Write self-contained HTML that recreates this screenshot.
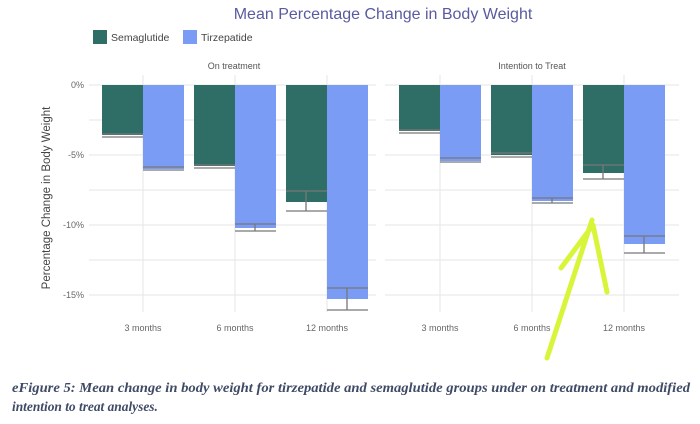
<!DOCTYPE html>
<html><head><style>
body{margin:0;background:#fff;width:700px;height:424px;overflow:hidden}
svg{display:block}
</style></head><body>
<svg width="700" height="424" xmlns="http://www.w3.org/2000/svg" font-family="Liberation Sans, DejaVu Sans, sans-serif">
<rect width="700" height="424" fill="#fff"/>
<text x="383" y="19" font-size="16" fill="#5a5aa0" text-anchor="middle">Mean Percentage Change in Body Weight</text>
<rect x="93" y="30" width="14" height="14" fill="#2e6e66"/>
<text x="111" y="41" font-size="10.5" fill="#444">Semaglutide</text>
<rect x="183" y="30" width="14" height="14" fill="#7b9cf5"/>
<text x="201" y="41" font-size="10.5" fill="#444">Tirzepatide</text>
<text x="234" y="69" font-size="9" fill="#555" text-anchor="middle">On treatment</text>
<text x="532" y="69" font-size="9" fill="#555" text-anchor="middle">Intention to Treat</text>
<g stroke="#e6e6e6" stroke-width="1">
<line x1="89" y1="85" x2="376" y2="85"/><line x1="89" y1="120" x2="376" y2="120"/><line x1="89" y1="155" x2="376" y2="155"/><line x1="89" y1="190" x2="376" y2="190"/><line x1="89" y1="225" x2="376" y2="225"/><line x1="89" y1="260" x2="376" y2="260"/><line x1="89" y1="295" x2="376" y2="295"/>
<line x1="385" y1="85" x2="679" y2="85"/><line x1="385" y1="120" x2="679" y2="120"/><line x1="385" y1="155" x2="679" y2="155"/><line x1="385" y1="190" x2="679" y2="190"/><line x1="385" y1="225" x2="679" y2="225"/><line x1="385" y1="260" x2="679" y2="260"/><line x1="385" y1="295" x2="679" y2="295"/>
<line x1="143" y1="75" x2="143" y2="312"/><line x1="235" y1="75" x2="235" y2="312"/><line x1="327" y1="75" x2="327" y2="312"/>
<line x1="440" y1="75" x2="440" y2="312"/><line x1="532" y1="75" x2="532" y2="312"/><line x1="624" y1="75" x2="624" y2="312"/>
</g>
<g font-size="9" fill="#666" text-anchor="end">
<text x="84" y="88">0%</text><text x="84" y="158">-5%</text><text x="84" y="228">-10%</text><text x="84" y="298">-15%</text>
</g>
<text transform="translate(50,198) rotate(-90)" font-size="11.5" fill="#444" text-anchor="middle">Percentage Change in Body Weight</text>
<g font-size="9" fill="#666" text-anchor="middle">
<text x="143" y="331">3 months</text><text x="235" y="331">6 months</text><text x="327" y="331">12 months</text>
<text x="440" y="331">3 months</text><text x="532" y="331">6 months</text><text x="624" y="331">12 months</text>
</g>
<g fill="#2e6e66">
<rect x="102" y="85" width="41" height="50"/><rect x="194" y="85" width="41" height="81"/><rect x="286" y="85" width="41" height="117"/>
<rect x="399" y="85" width="41" height="46"/><rect x="491" y="85" width="41" height="70"/><rect x="583" y="85" width="41" height="88"/>
</g>
<g fill="#7b9cf5">
<rect x="143" y="85" width="41" height="84"/><rect x="235" y="85" width="41" height="143"/><rect x="327" y="85" width="41" height="214"/>
<rect x="440" y="85" width="41" height="76"/><rect x="532" y="85" width="41" height="116"/><rect x="624" y="85" width="41" height="159"/>
</g>
<g stroke="#777" stroke-width="1.3" fill="none">
<path d="M102 134H143M102 137H143"/>
<path d="M143 167H184M143 170H184"/>
<path d="M194 165H235M194 168H235"/>
<path d="M235 224H276M235 231H276M255 224V231"/>
<path d="M286 191H327M286 211H327M306 191V211"/>
<path d="M327 288H368M327 310H368M347 288V310"/>
<path d="M399 130H440M399 133H440"/>
<path d="M440 158H481M440 162H481"/>
<path d="M491 153H532M491 157H532"/>
<path d="M532 198H573M532 203H573M552 198V203"/>
<path d="M583 165H624M583 179H624M603 165V179"/>
<path d="M624 236H665M624 253H665M644 236V253"/>
</g>
<path d="M547 358 L592 220 M561 268 L593 225 L607 292" stroke="#d8f53a" stroke-width="5" stroke-linecap="round" stroke-linejoin="round" fill="none"/>
<g font-family="Liberation Serif, serif" font-style="italic" font-weight="bold" font-size="13.4" fill="#3e4a66">
<text x="12" y="392" textLength="678" lengthAdjust="spacingAndGlyphs">eFigure 5: Mean change in body weight for tirzepatide and semaglutide groups under on treatment and modified</text>
<text x="12" y="411">intention to treat analyses.</text>
</g>
</svg>
</body></html>
